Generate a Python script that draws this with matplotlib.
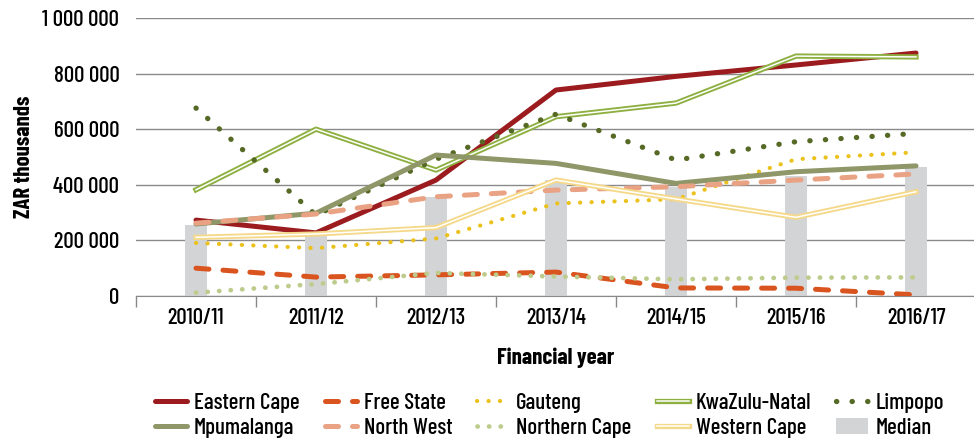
import matplotlib
matplotlib.use("Agg")
import matplotlib.pyplot as plt
import matplotlib.patheffects as pe
import matplotlib.patches as mpatches
from matplotlib.legend_handler import HandlerPatch
from matplotlib.ticker import FuncFormatter, FixedLocator
import numpy as np

plt.rcParams['font.family'] = ['Barlow Condensed', 'DejaVu Sans']
plt.rcParams['font.weight'] = 'medium'
FS = 16.5

years = ["2010/11", "2011/12", "2012/13", "2013/14", "2014/15", "2015/16", "2016/17"]

# ZAR thousands per province
eastern_cape = [273000, 227000, 417000, 741000, 790000, 831000, 874000]
free_state = [100000, 68000, 76000, 86000, 29000, 28000, 4000]
gauteng = [191000, 172000, 207000, 333000, 348000, 492000, 517000]
kwazulu_natal = [382000, 600000, 453000, 645000, 694000, 863000, 860000]
limpopo = [676000, 291000, 492000, 654000, 489000, 555000, 585000]
mpumalanga = [259000, 298000, 507000, 477000, 405000, 447000, 468000]
north_west = [262000, 295000, 357000, 381000, 393000, 417000, 439000]
northern_cape = [12000, 43000, 83000, 70000, 60000, 66000, 67000]
western_cape = [211000, 223000, 246000, 417000, 349000, 283000, 375000]
median = [255000, 227000, 357000, 417000, 393000, 430000, 465000]

x = np.arange(len(years))

fig = plt.figure(figsize=(9.74, 4.4), dpi=100)
ax = fig.add_axes([136 / 974, 144 / 440, 840 / 974, 278 / 440])

bars = ax.bar(x, median, width=0.185, color="#D3D4D6", label="Median", zorder=1)


def solid(vals, color, label):
    ax.plot(x, vals, color=color, lw=3.6, solid_capstyle="round", label=label, zorder=3)


def dashed(vals, color, label):
    ax.plot(x, vals, color=color, lw=3.6, linestyle=(0, (2.6, 2.8)),
            dash_capstyle="round", label=label, zorder=3)


def dotted(vals, color, label, lw=3.0, gap=2.7):
    ax.plot(x, vals, color=color, lw=lw, linestyle=(0, (0.05, gap)),
            dash_capstyle="round", label=label, zorder=3)


def double(vals, color, label):
    ax.plot(x, vals, color="white", lw=1.1, label=label, zorder=3,
            path_effects=[pe.Stroke(linewidth=3.8, foreground=color), pe.Normal()])


solid(eastern_cape, "#9B1B1E", "Eastern Cape")
dashed(free_state, "#D9541E", "Free State")
dotted(gauteng, "#EBC11B", "Gauteng")
double(kwazulu_natal, "#8DB040", "KwaZulu-Natal")
dotted(limpopo, "#566A26", "Limpopo", lw=3.8, gap=2.9)
solid(mpumalanga, "#8F9668", "Mpumalanga")
dashed(north_west, "#E9A384", "North West")
dotted(northern_cape, "#BDCC8C", "Northern Cape", lw=3.4, gap=2.4)
double(western_cape, "#F5D98A", "Western Cape")

ax.set_xlim(-0.5, len(years) - 0.5)
ax.set_ylim(0, 1000000)
ax.set_yticks(np.arange(0, 1000001, 200000))
ax.yaxis.set_major_formatter(FuncFormatter(lambda v, p: f"{int(v):,}".replace(",", " ")))
ax.set_xticks(x)
ax.set_xticklabels(years)
ax.xaxis.set_minor_locator(FixedLocator(np.arange(-0.5, len(years), 1.0)))
ax.tick_params(axis="x", which="major", length=0, pad=9, labelsize=FS)
ax.tick_params(axis="x", which="minor", length=8, width=1, color="#888888")
ax.tick_params(axis="y", length=0, pad=12, labelsize=FS)

ax.grid(axis="y", color="#8A8A8A", lw=1)
ax.set_axisbelow(True)
for side in ["left", "right", "top"]:
    ax.spines[side].set_visible(False)
ax.spines["bottom"].set_color("#8A8A8A")

ax.set_xlabel("Financial year", fontsize=FS, fontweight="bold", labelpad=14)
ax.set_ylabel("ZAR thousands", fontsize=FS, fontweight="bold", labelpad=6)


def square_patch(legend, orig_handle, xdescent, ydescent, width, height, fontsize):
    # small upright swatch for the median bars
    return mpatches.Rectangle((-xdescent, -ydescent - 0.35 * height), 0.56 * width, 1.7 * height)


handles, labels = ax.get_legend_handles_labels()
order = labels.index("Median")
handles = handles[:order] + handles[order + 1:] + [handles[order]]
labels = labels[:order] + labels[order + 1:] + [labels[order]]
# legend fills row by row
rows = [handles[:5], handles[5:]]
lrows = [labels[:5], labels[5:]]
h_cols, l_cols = [], []
for c in range(5):
    for r in range(2):
        h_cols.append(rows[r][c])
        l_cols.append(lrows[r][c])
fig.legend(h_cols, l_cols, ncol=5, loc="center", bbox_to_anchor=(0.564, 0.056),
           frameon=False, fontsize=FS, handlelength=1.4, handletextpad=0.3,
           columnspacing=1.1, labelspacing=0.2,
           handler_map={type(bars.patches[0]): HandlerPatch(patch_func=square_patch)})

fig.savefig("out.png", dpi=100)
